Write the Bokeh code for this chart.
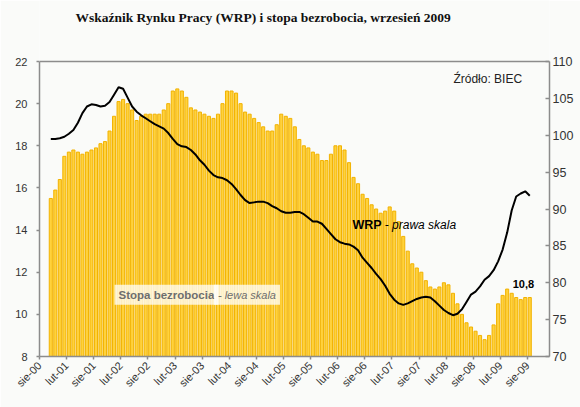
import pandas as pd
from bokeh.plotting import figure
from bokeh.models import Range1d, LinearAxis, FixedTicker, Label, ColumnDataSource, Span
from bokeh.embed import file_html
from bokeh.resources import INLINE

# ---------------- data ----------------
title_text = "Wskaźnik Rynku Pracy (WRP) i stopa bezrobocia, wrzesień 2009"
axis_start = "2000-08"
months = [str(p) for p in pd.period_range("2000-10", "2009-08", freq="M")]

unemployment = [
    15.5, 15.9, 16.4, 17.5, 17.7, 17.8, 17.7, 17.6, 17.7, 17.8, 17.9, 18.1, 18.2, 18.7, 19.4,
    20.1, 20.2, 20.0, 19.7, 19.2, 19.4, 19.5, 19.5, 19.5, 19.5, 19.7, 20.0,
    20.6, 20.7, 20.6, 20.3, 19.8, 19.7, 19.6, 19.5, 19.4, 19.3, 19.5, 20.0,
    20.6, 20.6, 20.5, 20.0, 19.6, 19.5, 19.3, 19.1, 18.9, 18.7, 18.7, 19.0,
    19.5, 19.4, 19.3, 18.9, 18.3, 18.0, 17.9, 17.7, 17.6, 17.3, 17.3, 17.6,
    18.0, 18.0, 17.8, 17.2, 16.5, 16.2, 15.7, 15.5, 15.2, 15.0, 14.8, 14.9,
    15.1, 14.9, 14.4, 13.7, 13.0, 12.4, 12.2, 12.0, 11.6, 11.3, 11.2, 11.3,
    11.5, 11.4, 11.0, 10.5, 10.0, 9.6, 9.4, 9.2, 9.0, 8.8, 9.0, 9.5,
    10.5, 10.9, 11.2, 11.0, 10.8, 10.7, 10.8, 10.8,
]

wrp = [
    99.5, 99.5, 99.6, 99.8, 100.2, 100.7, 101.7, 103.0, 103.9, 104.2, 104.1, 103.9, 104.0, 104.5, 105.5,
    106.5, 106.3, 105.1, 103.9, 103.2, 102.7, 102.3, 101.9, 101.5, 101.2, 100.9, 100.3,
    99.5, 98.8, 98.5, 98.4, 98.0, 97.4, 96.6, 96.0, 95.2, 94.6, 94.3, 94.2,
    93.9, 93.4, 92.7, 91.9, 91.2, 90.8, 90.9, 91.0, 91.0, 90.8, 90.4, 90.1,
    89.7, 89.5, 89.5, 89.6, 89.6, 89.3, 88.8, 88.3, 88.3, 88.0, 87.3, 86.6,
    85.9, 85.5, 85.3, 85.2, 84.9, 84.4, 83.4, 82.7, 82.0, 81.2, 80.5, 79.6,
    78.5, 77.7, 77.2, 77.0, 77.2, 77.5, 77.8, 78.0, 78.1, 78.0, 77.5, 76.9,
    76.3, 75.9, 75.6, 75.8, 76.4, 77.4, 78.4, 78.8, 79.5, 80.4, 80.9, 81.7,
    82.9, 84.5, 86.8, 89.8, 91.7, 92.1, 92.4, 91.8,
]

x_tick_labels = ["sie-00", "lut-01", "sie-01", "lut-02", "sie-02", "lut-03", "sie-03",
                 "lut-04", "sie-04", "lut-05", "sie-05", "lut-06", "sie-06", "lut-07",
                 "sie-07", "lut-08", "sie-08", "lut-09", "sie-09"]
left_ticks = [8, 10, 12, 14, 16, 18, 20, 22]
right_ticks = [70, 75, 80, 85, 90, 95, 100, 105, 110]

source_note = "Źródło: BIEC"
wrp_name, wrp_note = "WRP", "- prawa skala"
bar_name, bar_note = "Stopa bezrobocia", "- lewa skala"

# ---------------- layout geometry (pixels) ----------------
W, H = 580, 407
FRAME_L, FRAME_R, AXIS_TOP, FRAME_B = 39, 549, 61, 356
# the frame reaches the top of the canvas so the title can sit inside it;
# the visible plot box is drawn only up to the last tick
axis_h = FRAME_B - AXIS_TOP
frame_h = FRAME_B
left_end = left_ticks[0] + (left_ticks[-1] - left_ticks[0]) * frame_h / axis_h
right_end = right_ticks[0] + (right_ticks[-1] - right_ticks[0]) * frame_h / axis_h

start = pd.Period(axis_start, freq="M")
x = [(pd.Period(m, freq="M") - start).n + 0.5 for m in months]
tick_pos = [i * 6 for i in range(len(x_tick_labels))]
src = ColumnDataSource(dict(x=x, u=unemployment, w=wrp))

BG = "#FAFBF9"
AX = "#8C8C8C"
FONT = "Liberation Sans"

p = figure(width=W, height=H, output_backend="svg", toolbar_location=None,
           x_range=Range1d(0, 112.87), y_range=Range1d(left_ticks[0], left_end),
           min_border_left=FRAME_L, min_border_right=W - FRAME_R, min_border_top=0,
           min_border_bottom=H - FRAME_B,
           background_fill_color=BG, border_fill_color=BG)
p.extra_y_ranges = {"wrp": Range1d(right_ticks[0], right_end)}
p.xgrid.visible = False
p.ygrid.visible = False
p.outline_line_color = None
p.add_layout(Span(location=left_ticks[-1], dimension="width", line_color=AX, line_width=1.5))

p.vbar(x="x", top="u", bottom=0, width=0.68, source=src,
       fill_color="#FFD23C", line_color="#F2B200", line_width=1)
p.line(x="x", y="w", source=src, y_range_name="wrp", line_color="black", line_width=2)

# axes
xa = p.xaxis[0]
xa.ticker = FixedTicker(ticks=tick_pos)
xa.major_label_overrides = {t: l for t, l in zip(tick_pos, x_tick_labels)}
xa.major_label_orientation = 0.785398
xa.minor_tick_line_color = None
xa.major_tick_in = 0
xa.major_tick_out = 3
xa.major_label_standoff = 4

ya = p.yaxis[0]
ya.ticker = FixedTicker(ticks=left_ticks)
ya.bounds = (left_ticks[0], left_ticks[-1])
ya.minor_tick_line_color = None
ya.major_tick_in = 0
ya.major_tick_out = 3
ya.major_label_standoff = 9

ra = LinearAxis(y_range_name="wrp", ticker=FixedTicker(ticks=right_ticks),
                bounds=(right_ticks[0], right_ticks[-1]))
ra.minor_tick_line_color = None
ra.major_tick_in = 4
ra.major_tick_out = 0
ra.major_label_standoff = 3
p.add_layout(ra, "right")

for ax, fs in ((xa, "11px"), (ya, "11px"), (ra, "12.5px")):
    ax.axis_line_color = AX
    ax.axis_line_width = 1.5
    ax.major_tick_line_color = AX
    ax.major_tick_line_width = 1.5
    ax.major_label_text_font = FONT
    ax.major_label_text_font_size = fs
    ax.major_label_text_color = "#333333"

# texts
p.add_layout(Label(x=7.96, y=24.09, text=title_text, text_font="Liberation Serif",
                   text_font_style="bold", text_font_size="13.5px", text_color="#111111",
                   text_baseline="middle"))
p.add_layout(Label(x=91.6, y=21.15, text=source_note, text_font=FONT,
                   text_font_size="12px", text_color="#222222", text_baseline="middle"))
p.add_layout(Label(x=69.25, y=14.22, text=wrp_name, text_font=FONT, text_font_style="bold",
                   text_font_size="12.5px", text_color="black", text_baseline="middle"))
p.add_layout(Label(x=76.4, y=14.22, text=wrp_note, text_font=FONT, text_font_style="italic",
                   text_font_size="12px", text_color="black", text_baseline="middle"))
p.add_layout(Label(x=16.6, y=10.93, text=bar_name, text_font=FONT, text_font_style="bold",
                   text_font_size="11.5px", text_color="#6E6E6E", text_baseline="middle",
                   background_fill_color="white", background_fill_alpha=0.75, padding=4))
p.add_layout(Label(x=38.6, y=10.93, text=bar_note, text_font=FONT, text_font_style="italic",
                   text_font_size="11px", text_color="#6E6E6E", text_baseline="middle",
                   background_fill_color="white", background_fill_alpha=0.75, padding=4))
last_label = f"{unemployment[-1]:.1f}".replace(".", ",")
p.add_layout(Label(x=x[-1] - 1.4, y=unemployment[-1] + 0.62, text=last_label, text_font=FONT,
                   text_font_style="bold", text_font_size="11px", text_color="black",
                   text_align="center", text_baseline="middle"))

open("out.html", "w").write(file_html(p, INLINE))
